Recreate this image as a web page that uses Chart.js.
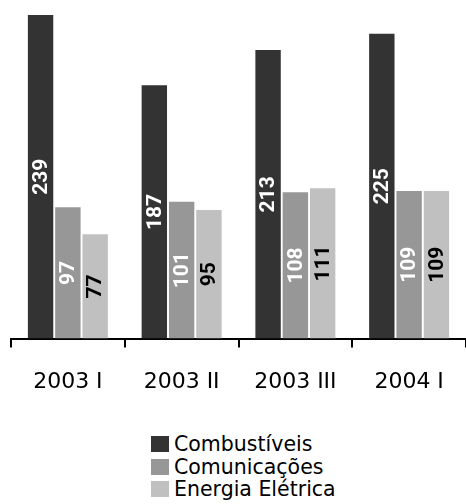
<!DOCTYPE html>
<html>
<head>
<meta charset="utf-8">
<script src="https://cdn.jsdelivr.net/npm/chart.js@4"></script>
<style>
  body { margin: 0; background: #fff; }
  #caixa { position: relative; width: 466px; height: 504px; }
  #grafico { position: absolute; left: 0; top: 0; }
  #legenda { position: absolute; left: 151px; top: 433px; font-family: "DejaVu Sans", sans-serif; font-size: 20.5px; color: #000; }
  .item { display: flex; align-items: center; height: 22.5px; }
  .cor { width: 18px; height: 16px; margin-right: 5px; }
</style>
</head>
<body>
<div id="caixa">
  <canvas id="grafico" width="466" height="416"></canvas>
  <div id="legenda"></div>
</div>
<script>
// dados
const periodos = ['2003 I', '2003 II', '2003 III', '2004 I'];
const series = ['Combustíveis', 'Comunicações', 'Energia Elétrica'];
const combustiveis = [239, 187, 213, 225];
const comunicacoes = [97, 101, 108, 109];
const energia = [77, 95, 111, 109];
const cores = ['#333333', '#979797', '#c0c0c0'];
const coresTexto = ['#ffffff', '#ffffff', '#000000'];

// rótulos verticais dentro das barras
const rotulos = {
  id: 'rotulos',
  afterDatasetsDraw(chart) {
    const ctx = chart.ctx;
    chart.data.datasets.forEach((ds, i) => {
      chart.getDatasetMeta(i).data.forEach((barra, j) => {
        ctx.save();
        ctx.translate(barra.x, (barra.y + barra.base) / 2);
        ctx.rotate(-Math.PI / 2);
        ctx.font = 'bold 21px Roboto, sans-serif';
        ctx.fillStyle = coresTexto[i];
        ctx.textAlign = 'center';
        ctx.textBaseline = 'middle';
        ctx.fillText(ds.data[j], 0, 1);
        ctx.restore();
      });
    });
  }
};

const ctx = document.getElementById('grafico').getContext('2d');
const grafica = new Chart(ctx, {
  type: 'bar',
  data: {
    labels: periodos,
    datasets: [
      { label: series[0], data: combustiveis, backgroundColor: cores[0] },
      { label: series[1], data: comunicacoes, backgroundColor: cores[1] },
      { label: series[2], data: energia, backgroundColor: cores[2] }
    ]
  },
  options: {
    responsive: false,
    animation: false,
    layout: { padding: { left: 11, right: 0, top: 0, bottom: 0 } },
    datasets: { bar: { categoryPercentage: 0.72, barPercentage: 0.93 } },
    plugins: { legend: { display: false }, tooltip: { enabled: false } },
    scales: {
      y: { display: false, min: 0, max: 250 },
      x: {
        border: { color: '#000', width: 2 },
        grid: { offset: true, drawOnChartArea: false, color: '#000', lineWidth: 2, tickLength: 9 },
        ticks: { color: '#000', padding: 21, font: { family: 'DejaVu Sans', size: 22 } }
      }
    }
  },
  plugins: [rotulos]
});

// legenda em lista vertical
const legenda = document.getElementById('legenda');
series.forEach((nome, i) => {
  legenda.innerHTML += `<div class="item"><span class="cor" style="background:${cores[i]}"></span>${nome}</div>`;
});
</script>
</body>
</html>
